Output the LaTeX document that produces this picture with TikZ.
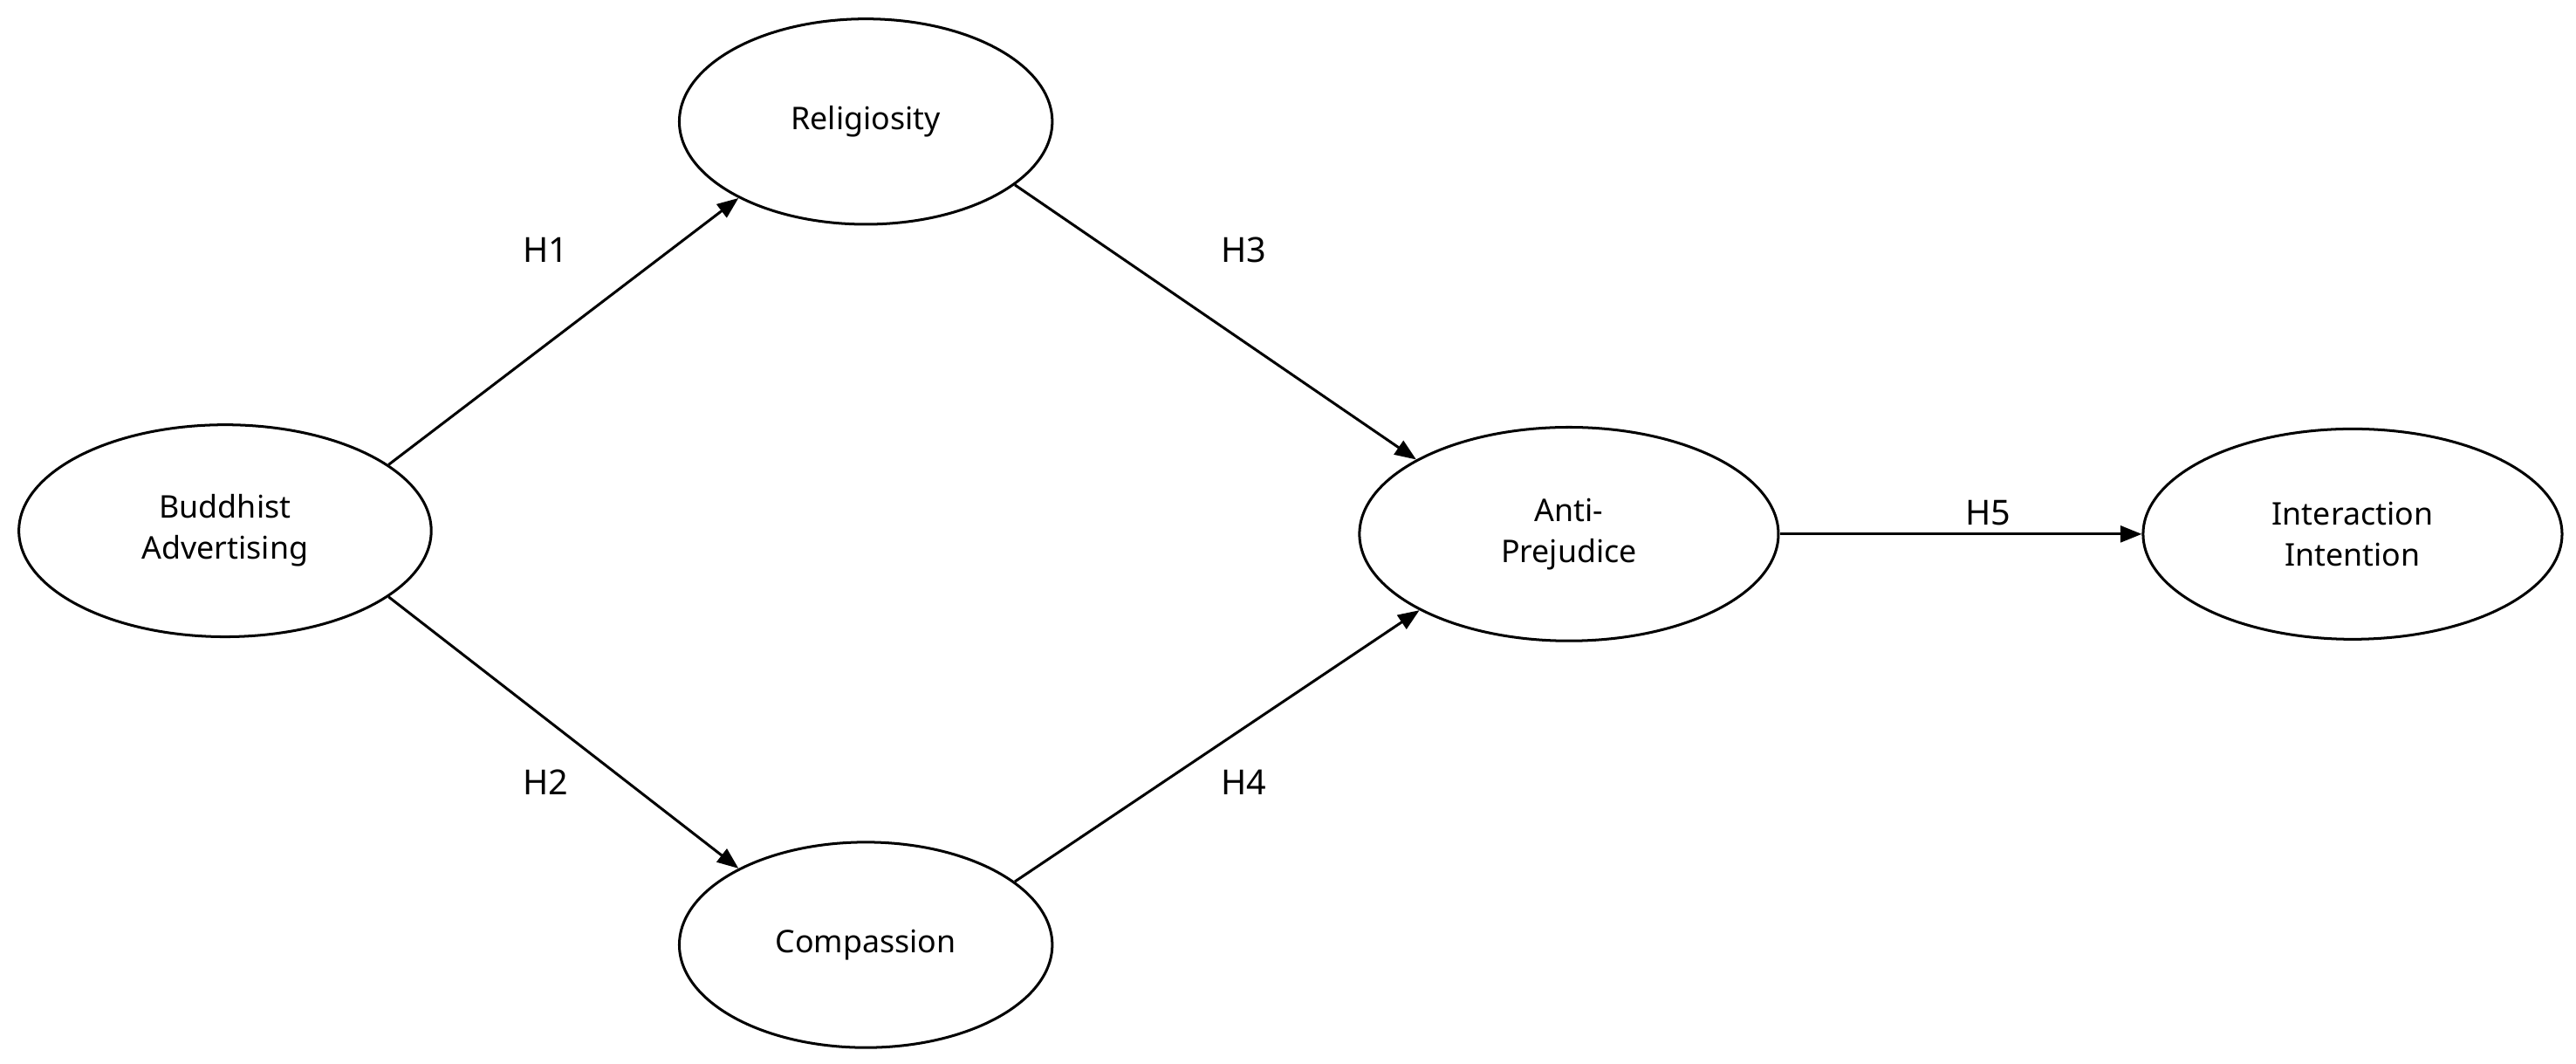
\documentclass[tikz,border=0pt]{standalone}
\usepackage{fontspec}
\setmainfont{Noto Sans}
\usetikzlibrary{shapes.geometric,arrows.meta}
\begin{document}
\begin{tikzpicture}[x=1pt,y=-1pt,
  latent/.style={draw,ellipse,line width=1.6pt,minimum width=251pt,minimum height=129pt,inner sep=0pt,align=center,font=\fontsize{19}{25}\selectfont},
  path/.style={line width=1.6pt,-{Triangle[length=13pt,width=10pt]}},
  hlab/.style={font=\fontsize{21}{25}\selectfont}]
\useasboundingbox (0,0) rectangle (1568,647);
\node[latent] (b) at (137,323) {Buddhist\\Advertising};
\node[latent,minimum width=227pt,minimum height=125pt] (r) at (527,74) {Religiosity};
\node[latent,minimum width=227pt,minimum height=125pt] (c) at (527,575) {Compassion};
\node[latent,minimum width=255pt,minimum height=130pt] (a) at (955,325) {Anti-\\Prejudice};
\node[latent,minimum width=255pt,minimum height=128pt] (i) at (1432,325) {Interaction\\Intention};
\draw[path] (b.22) -- (r.211);
\draw[path] (b.-22) -- (c.149);
\draw[path] (r.-23.5) -- (a.154);
\draw[path] (c.23) -- (a.207);
\draw[path] (a.east) -- (i.west);
\node[hlab] (h1) at (332,152) {H1};
\node[hlab] (h2) at (332,476) {H2};
\node[hlab] (h3) at (757,152) {H3};
\node[hlab] (h4) at (757,476) {H4};
\node[hlab] (h5) at (1210,312) {H5};
\end{tikzpicture}
\end{document}
